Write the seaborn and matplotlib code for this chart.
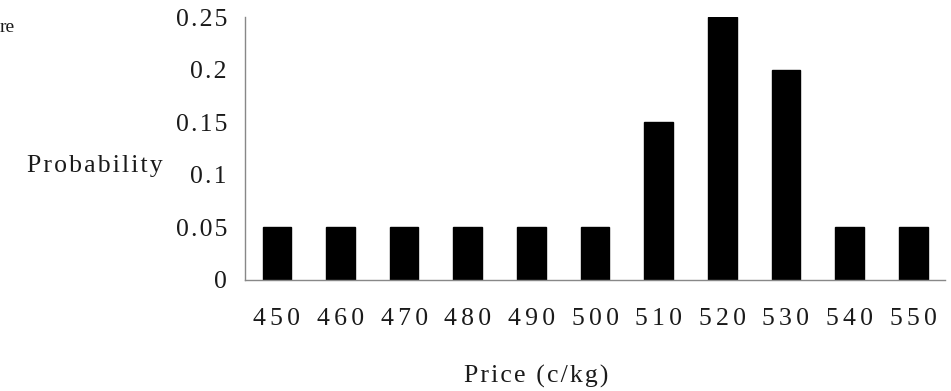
import matplotlib
matplotlib.use("Agg")
import matplotlib.pyplot as plt
import seaborn as sns
import pandas as pd
from matplotlib.ticker import FixedLocator

prices = [450, 460, 470, 480, 490, 500, 510, 520, 530, 540, 550]
probabilities = [0.05, 0.05, 0.05, 0.05, 0.05, 0.05, 0.15, 0.25, 0.20, 0.05, 0.05]
y_ticks = [0, 0.05, 0.1, 0.15, 0.2, 0.25]
y_tick_labels = ["0", "0.05", "0.1", "0.15", "0.2", "0.25"]

sns.set_style("white")
plt.rcParams['font.family'] = ['Liberation Serif', 'DejaVu Serif']

HS = "\u200a"  # hair space for letter spacing
def spaced(s, sep=HS):
    return sep.join(list(s))

df = pd.DataFrame({"price": [str(p) for p in prices], "prob": probabilities})

fig = plt.figure(figsize=(9.51, 3.91), dpi=100)
ax = fig.add_axes([245/951, 1-280/391, 700/951, 263/391])

sns.barplot(data=df, x="price", y="prob", color="black", width=0.45,
            saturation=1, ax=ax, edgecolor="black")

text_col = "#1a1a1a"
spine_col = "#888888"
FS = 18.5

ax.set_ylim(0, 0.25)
ax.set_xlim(-0.5, len(prices) - 0.5)
ax.set_yticks(y_ticks)
ax.set_yticklabels([spaced(t, HS) for t in y_tick_labels], fontsize=FS, color=text_col)
ax.set_xticks(range(len(prices)))
ax.set_xticklabels([spaced(str(p), HS * 2) for p in prices], fontsize=FS, color=text_col)
ax.tick_params(axis="x", which="major", length=0, pad=20)
ax.xaxis.set_minor_locator(FixedLocator([i - 0.5 for i in range(len(prices) + 1)]))
ax.tick_params(axis="x", which="minor", length=6, width=1, color=spine_col, direction="out")
ax.tick_params(axis="y", which="major", length=7, width=1, color=spine_col, direction="out", pad=6)
ax.set_xlabel("")
ax.set_ylabel("")
for s in ["top", "right"]:
    ax.spines[s].set_visible(False)
for s in ["left", "bottom"]:
    ax.spines[s].set_color(spine_col)
    ax.spines[s].set_linewidth(1)

fig.text(27/951, 1-166/391, spaced("Probability"), fontsize=FS, color=text_col,
         ha="left", va="center")
fig.text(536/951, 1-376/391, spaced("Price (c/kg)"), fontsize=FS, color=text_col,
         ha="center", va="center")
fig.text(0, 1-27/391, "re", fontsize=14, color=text_col, ha="left", va="center")

fig.savefig("out.png", dpi=100)
